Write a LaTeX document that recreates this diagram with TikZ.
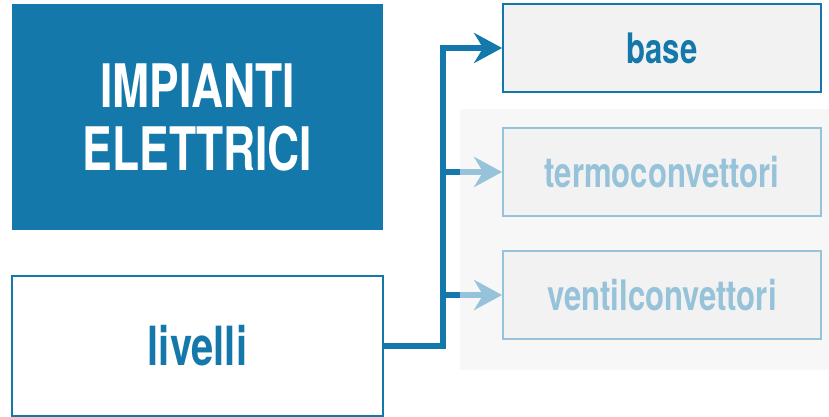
\documentclass[tikz,border=0pt]{standalone}
\usepackage{fontspec}
\newfontfamily\condfont{TeX Gyre Heros}[FakeStretch=0.74]
\usepackage{tikz}
\usetikzlibrary{arrows.meta, positioning, calc}
\definecolor{myblue}{RGB}{20,120,170}
\definecolor{mylight}{RGB}{150,195,218}
\definecolor{boxgrey}{RGB}{242,242,242}
\definecolor{panelgrey}{RGB}{247,247,247}
\tikzset{
  titlebox/.style={rectangle, fill=myblue, text=white, align=center,
    minimum width=371pt, minimum height=226pt, inner sep=0pt,
    font=\condfont\bfseries\fontsize{60}{63}\selectfont},
  levelbox/.style={rectangle, draw=myblue, fill=white, text=myblue,
    minimum width=371pt, minimum height=140pt, line width=1.8pt,
    font=\condfont\bfseries\fontsize{54}{54}\selectfont},
  optbox/.style={rectangle, draw=myblue, fill=boxgrey, text=myblue,
    minimum width=318pt, minimum height=88pt, line width=1.8pt,
    font=\condfont\bfseries\fontsize{42}{42}\selectfont},
  fadebox/.style={optbox, draw=mylight, text=mylight},
  arrow/.style={-{Stealth[length=28pt, width=30pt, inset=9pt]}, line width=6pt, color=myblue},
  fadearrow/.style={arrow, color=mylight},
  line/.style={line width=6pt, color=myblue}
}

\begin{document}
\begin{tikzpicture}[x=1pt, y=-1pt]
  \useasboundingbox (0,0) rectangle (829,417);

  % Left column
  \node[titlebox] (title) at (197.5,117) {IMPIANTI\\ELETTRICI};
  \node[levelbox] (livelli) at (197.5,346) {livelli};

  % Background panel for the inactive options
  \node[rectangle, fill=panelgrey, minimum width=369pt, minimum height=261pt, inner sep=0pt] (panel) at (644.5,239.5) {};

  % Options
  \node[optbox] (base) at (662,48) {base};
  \node[fadebox] (termo) at (662,172) {termoconvettori};
  \node[fadebox] (ventil) at (662,295) {ventilconvettori};

  % Connections
  \coordinate (spine) at (443,48);
  \draw[arrow] (livelli.east) -| (spine) -- (base.west);
  \draw[line] (spine |- termo.west) -- (panel.west |- termo.west);
  \draw[fadearrow] (panel.west |- termo.west) -- (termo.west);
  \draw[line] (spine |- ventil.west) -- (panel.west |- ventil.west);
  \draw[fadearrow] (panel.west |- ventil.west) -- (ventil.west);
\end{tikzpicture}
\end{document}
